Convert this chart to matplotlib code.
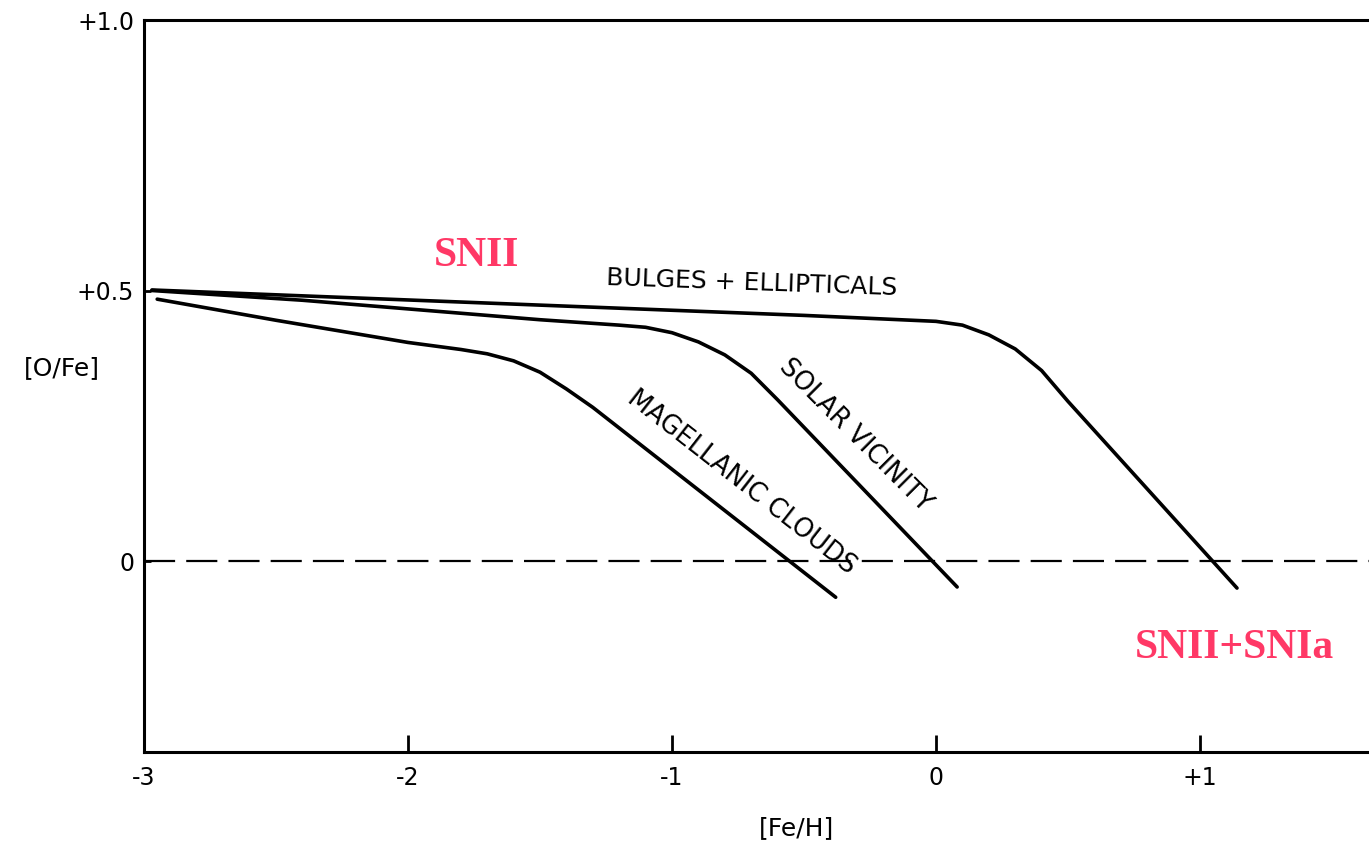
import matplotlib.pyplot as plt

# [Fe/H] vs [O/Fe] tracks
bulges_feh = [-2.97, -1.5, -0.5, 0.0, 0.1, 0.2, 0.3, 0.4, 0.5, 1.14]
bulges_ofe = [0.501, 0.473, 0.454, 0.443, 0.436, 0.418, 0.392, 0.352, 0.295, -0.050]

solar_feh = [-2.97, -2.4, -1.5, -1.2, -1.1, -1.0, -0.9, -0.8, -0.7, -0.6, 0.08]
solar_ofe = [0.500, 0.482, 0.446, 0.436, 0.432, 0.422, 0.405, 0.381, 0.347, 0.298, -0.048]

magell_feh = [-2.95, -2.5, -2.0, -1.8, -1.7, -1.6, -1.5, -1.4, -1.3, -0.38]
magell_ofe = [0.484, 0.445, 0.404, 0.391, 0.383, 0.370, 0.349, 0.318, 0.284, -0.067]

xticks = [-3, -2, -1, 0, 1]
xticklabels = ['-3', '-2', '-1', '0', '+1']
yticks = [0, 0.5, 1.0]
yticklabels = ['0', '+0.5', '+1.0']

red = '#ff3866'

fig = plt.figure(figsize=(13.69, 8.43), dpi=100)
ax = fig.add_axes([144/1369, 1 - 752/843, 1 - 144/1369, (752 - 20)/843])

lw = 2.6
ax.plot(bulges_feh, bulges_ofe, color='black', lw=lw, solid_capstyle='round')
ax.plot(solar_feh, solar_ofe, color='black', lw=lw, solid_capstyle='round')
ax.plot(magell_feh, magell_ofe, color='black', lw=lw, solid_capstyle='round')
ax.axhline(0, color='black', lw=1.6, linestyle=(0, (14, 5)))

ax.set_xlim(-3, 1.64)
ax.set_ylim(-0.353, 1.0)

for s in ['left', 'bottom', 'top']:
    ax.spines[s].set_linewidth(2.2)
ax.spines['right'].set_visible(False)

ax.set_xticks(xticks)
ax.set_xticklabels(xticklabels)
ax.set_yticks(yticks)
ax.set_yticklabels(yticklabels)
ax.tick_params(axis='x', direction='in', length=12, width=2, labelsize=17, pad=10)
ax.tick_params(axis='y', direction='in', length=5, width=2, labelsize=17, pad=7)

ax.set_xlabel('[Fe/H]', fontsize=18, va='center')
ax.xaxis.set_label_coords(0.533, -0.104)
ax.set_ylabel('[O/Fe]', fontsize=18, rotation=0, va='center', ha='center')
ax.yaxis.set_label_coords(-0.067, 0.525)

ax.text(-0.697, 0.514, 'BULGES + ELLIPTICALS', fontsize=18, rotation=-2,
        ha='center', va='center', rotation_mode='anchor')
ax.text(-0.305, 0.232, 'SOLAR VICINITY', fontsize=18.5, rotation=-45,
        ha='center', va='center', rotation_mode='anchor')
ax.text(-0.735, 0.145, 'MAGELLANIC CLOUDS', fontsize=18.5, rotation=-38,
        ha='center', va='center', rotation_mode='anchor')

ax.text(-1.742, 0.564, 'SNII', fontsize=30, color=red, fontweight='bold',
        family='Liberation Serif', ha='center', va='center')
ax.text(1.129, -0.161, 'SNII+SNIa', fontsize=30, color=red, fontweight='bold',
        family='Liberation Serif', ha='center', va='center')

fig.savefig('out.png', dpi=100)
